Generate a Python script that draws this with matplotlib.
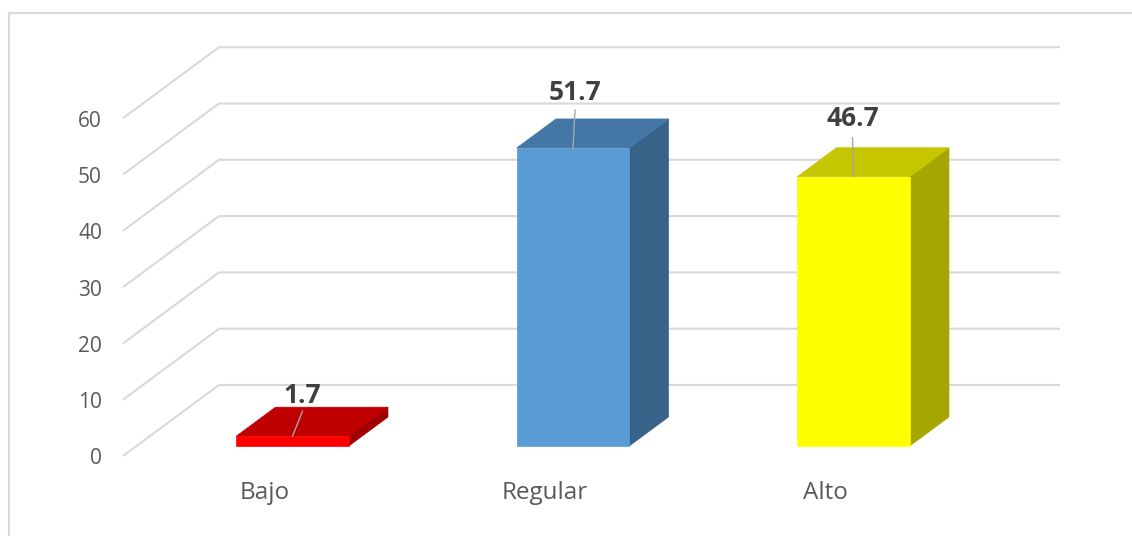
import matplotlib
matplotlib.use("Agg")
import matplotlib.pyplot as plt
from matplotlib.patches import Polygon
from matplotlib.lines import Line2D

# ---- data ----
categories = ["Bajo", "Regular", "Alto"]
values = [1.7, 51.7, 46.7]
tick_values = [0, 10, 20, 30, 40, 50, 60]
tick_labels = ["0", "10", "20", "30", "40", "50", "60"]

# ---- style ----
front_colors = ["#FF0000", "#5B9BD5", "#FFFF00"]
top_colors = ["#C00000", "#4577A6", "#C6C600"]
side_colors = ["#A00000", "#376388", "#A6A600"]
grid_color = "#D9D9D9"
text_color = "#595959"
label_color = "#404040"
FONT = ["Open Sans", "DejaVu Sans"]

W, H = 1132, 536
fig = plt.figure(figsize=(W / 100, H / 100), dpi=100)
ax = fig.add_axes([0, 0, 1, 1])

# pixel layout -> data units
U = 280.5          # px per category
V = 5.63           # px per value unit
X0 = 292.5         # px of category 0 (bar front centre)
Y0 = 456           # px (from top) of value 0 on the front plane
ax.set_xlim(-X0 / U, (W - X0) / U)
ax.set_ylim(-(H - Y0) / V, Y0 / V)
ax.axis("off")

DX = 96 / U        # depth vector in data units
DV = 71 / V

def proj(x, v, z):
    return (x + z * DX, v + z * DV)

# gridlines (front diagonal + back wall)
xL = (123 - X0) / U
xR = (1060 - X0) / U
for v in tick_values:
    p0 = proj(xL, v, 0)
    p1 = proj(xL, v, 1)
    p2 = (xR, p1[1])
    ax.plot([p0[0], p1[0], p2[0]], [p0[1], p1[1], p2[1]], color=grid_color,
            lw=1.5, solid_capstyle="butt", zorder=1)

# tick labels
for v, t in zip(tick_values, tick_labels):
    ax.text((102 - X0) / U, v - 3 / V, t, ha="right", va="center", fontsize=15,
            color=text_color, family=FONT)

# bars
zf = 10 / 71
zb = zf + 29 / 71
hw = 56.25 / U
persp = 1.024
label_dx_px = [10, 2, -1]
label_dy_px = [41, 55, 58]
leader_gap_px = [16, 17, 19]
for i, (cat, val) in enumerate(zip(categories, values)):
    h = val * persp
    c = i - zf * DX   # so that the front face is centred on category i
    fl = proj(c - hw, 0, zf)
    fr = proj(c + hw, 0, zf)
    ftl = proj(c - hw, h, zf)
    ftr = proj(c + hw, h, zf)
    btl = proj(c - hw, h, zb)
    btr = proj(c + hw, h, zb)
    bbr = proj(c + hw, 0, zb)
    ax.add_patch(Polygon([fr, ftr, btr, bbr], closed=True, facecolor=side_colors[i],
                         edgecolor=side_colors[i], lw=0.5, zorder=3))
    ax.add_patch(Polygon([ftl, ftr, btr, btl], closed=True, facecolor=top_colors[i],
                         edgecolor=top_colors[i], lw=0.5, zorder=3))
    ax.add_patch(Polygon([fl, fr, ftr, ftl], closed=True, facecolor=front_colors[i],
                         edgecolor=front_colors[i], lw=0.5, zorder=4))
    # data label with leader line
    top_x, top_y = proj(c, h, zf)
    lx = top_x + label_dx_px[i] / U
    ly = top_y + label_dy_px[i] / V
    ax.plot([top_x, lx], [top_y, ly - leader_gap_px[i] / V], color="#A6A6A6",
            lw=1.0, zorder=5)
    ax.text(lx, ly, f"{val:.1f}", ha="center", va="center", fontsize=19,
            fontweight="bold", color=label_color, family=FONT, zorder=6)
    # category label
    ax.text(i - 28 / U, (Y0 - 493) / V, cat, ha="center", va="center",
            fontsize=17.5, color=text_color, family=FONT)

# chart frame
fig.add_artist(Line2D([9 / W, 9 / W], [0, 1 - 12.5 / H], color=grid_color, lw=1.5,
                      transform=fig.transFigure))
fig.add_artist(Line2D([9 / W, 1], [1 - 12.5 / H, 1 - 12.5 / H], color=grid_color,
                      lw=1.5, transform=fig.transFigure))

fig.savefig("out.png", dpi=100, facecolor="white")
